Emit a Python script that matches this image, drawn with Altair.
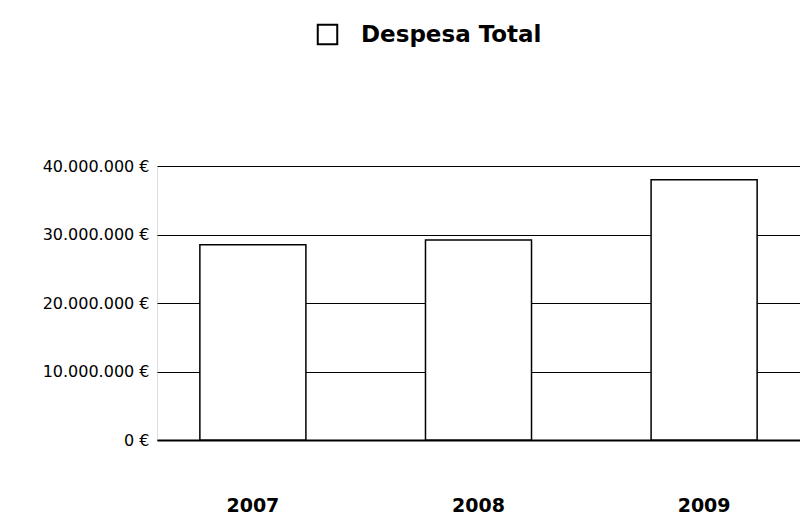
import altair as alt
import pandas as pd

years = ["2007", "2008", "2009"]
values = [28500000, 29200000, 38000000]
series = ["Despesa Total"] * 3

df = pd.DataFrame({"Ano": years, "Valor": values, "Serie": series})

bars = alt.Chart(df).mark_bar(fill="white", stroke="black", strokeWidth=1.5).encode(
    x=alt.X("Ano:N", title=None,
            scale=alt.Scale(paddingInner=0.53, paddingOuter=0.19),
            axis=alt.Axis(labelAngle=0, labelFont="DejaVu Sans", labelFontSize=19,
                          labelFontWeight="bold", labelColor="black", labelPadding=56,
                          ticks=False, domain=True, domainColor="black", domainWidth=2,
                          grid=False)),
    y=alt.Y("Valor:Q", title=None,
            scale=alt.Scale(domain=[0, 40000000], nice=False),
            axis=alt.Axis(values=[0, 10000000, 20000000, 30000000, 40000000],
                          labelExpr="datum.value == 0 ? '0 €' : format(datum.value/1000000,'d') + '.000.000 €'",
                          labelFont="DejaVu Sans", labelFontSize=16, labelColor="black",
                          labelPadding=8, ticks=False, domain=False,
                          grid=True, gridColor="black", gridWidth=1, gridOpacity=1)),
    color=alt.Color("Serie:N", title=None,
                    scale=alt.Scale(range=["white"]),
                    legend=alt.Legend(orient="none", legendX=159, legendY=-143,
                                      symbolType="square", symbolSize=380,
                                      symbolStrokeColor="black", symbolStrokeWidth=2,
                                      symbolFillColor="white",
                                      labelFont="DejaVu Sans", labelFontSize=23,
                                      labelFontWeight="bold", labelColor="black",
                                      labelOffset=22, labelLimit=400)),
)

chart = bars.properties(
    width=643, height=274,
    padding={"left": 149, "top": 158, "right": 0, "bottom": 78},
    autosize=alt.AutoSizeParams(type="none"),
).configure_view(stroke=None).configure(background="white")

chart.save("out.html", embed_options={"renderer": "svg", "actions": False})
